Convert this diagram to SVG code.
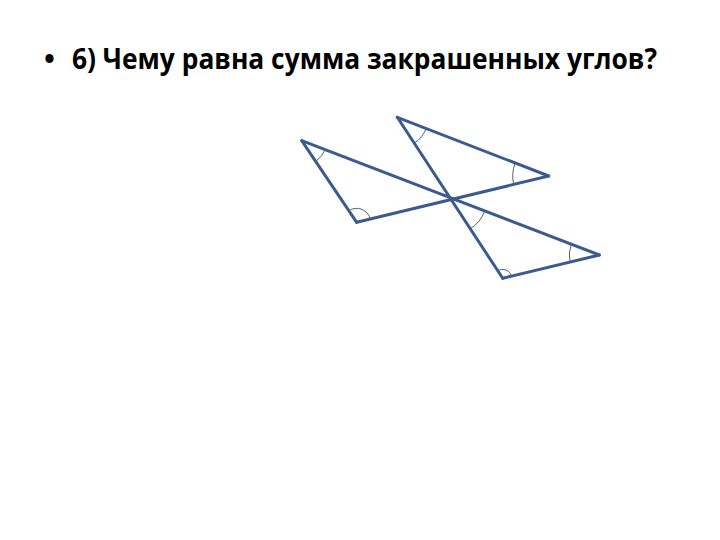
<svg xmlns="http://www.w3.org/2000/svg" width="720" height="540" viewBox="0 0 720 540">
<style>
.ttl{font-family:"Open Sans","Noto Sans","Liberation Sans",sans-serif;font-weight:bold;font-size:29px;fill:#000}
.seg{stroke:#3b5b8f;stroke-width:3;stroke-linecap:round;fill:none}
.arc{stroke:#50607a;stroke-width:1;fill:none}
</style>
<rect width="720" height="540" fill="#fff"/>
<g id="title">
<text class="ttl" x="44" y="69">•</text>
<text class="ttl" x="72" y="69" textLength="585" lengthAdjust="spacingAndGlyphs">6) Чему равна сумма закрашенных углов?</text>
</g>
<g id="connectors">
<line class="seg" x1="301.7" y1="140.7" x2="599.3" y2="255"/>
<line class="seg" x1="356.7" y1="222.3" x2="548.7" y2="176"/>
<line class="seg" x1="397.3" y1="117.3" x2="502.7" y2="278.3"/>
<line class="seg" x1="301.7" y1="140.7" x2="356.7" y2="222.3"/>
<line class="seg" x1="397.3" y1="117.3" x2="548.7" y2="176"/>
<line class="seg" x1="599.3" y1="255" x2="502.7" y2="278.3"/>
</g>
<g id="angles">
<path class="arc" d="M325 149.7 A25 25 0 0 1 315.7 161.4"/>
<path class="arc" d="M348.9 210.7 A14 14 0 0 1 370.3 219"/>
<path class="arc" d="M426.2 128.5 A31 31 0 0 1 414.3 143.2"/>
<path class="arc" d="M513.7 184.4 A36 36 0 0 1 515.2 163"/>
<path class="arc" d="M484.6 211.4 A36 36 0 0 1 470.7 228.6"/>
<path class="arc" d="M570.1 262 A30 30 0 0 1 571.3 244.2"/>
<path class="arc" d="M497.8 270.8 A9 9 0 0 1 511.4 276.2"/>
</g>
</svg>
